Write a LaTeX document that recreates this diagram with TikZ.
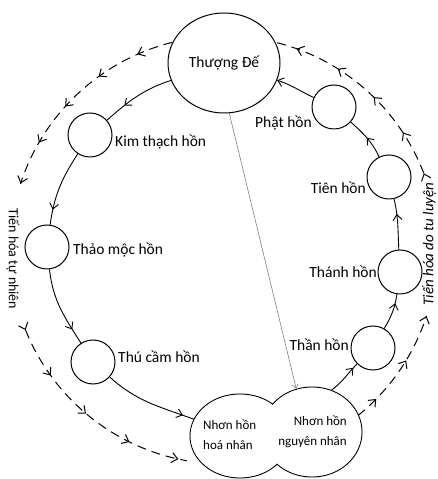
\documentclass[tikz,border=0pt]{standalone}
\usepackage{fontspec}
\setmainfont{Carlito}
\usetikzlibrary{arrows.meta,decorations.markings,shapes.geometric}
\begin{document}
\begin{tikzpicture}[x=1pt,y=1pt,
  >={Straight Barb[length=5.5pt,width=9pt]},
  soul/.style={circle, draw, line width=1pt, minimum size=44pt, inner sep=0pt},
  cloudpart/.style={ellipse, draw, fill=white, line width=1pt, inner sep=0pt},
  lbl/.style={font=\fontsize{15.5}{18}\selectfont, inner sep=0pt},
  cloudtxt/.style={font=\fontsize{13}{20}\selectfont, inner sep=0pt},
  conn/.style={line width=0.9pt},
  midarrow/.style={postaction=decorate, decoration={markings, mark=at position #1 with {\arrow{>}}}},
  dasharc/.style={line width=1pt, dash pattern=on 9pt off 6pt},
  arcmarks/.style 2 args={postaction=decorate, decoration={markings, mark=between positions #1 and 1 step #2 with {\arrow{Straight Barb[length=6pt,width=10pt]}}}}
]
\useasboundingbox (0,0) rectangle (438,479);
\coordinate (C) at (224,229);

% main nodes
\node[ellipse, draw, line width=1pt, minimum width=112pt, minimum height=100pt, inner sep=0pt, lbl] (TD) at (224,416) {Thượng Đế};
\node[soul] (kim) at (90,344) {};
\node[soul] (thao) at (47,232) {};
\node[soul] (thu) at (93,117) {};
\node[soul] (phat) at (334,372) {};
\node[soul] (tien) at (389,302) {};
\node[soul] (thanh) at (400,207) {};
\node[soul] (than) at (373,131) {};

% labels
\node[lbl, anchor=west] (kimL) at (115,337) {Kim thạch hồn};
\node[lbl, anchor=west] (thaoL) at (73,229) {Thảo mộc hồn};
\node[lbl, anchor=west] (thuL) at (118,122) {Thú cầm hồn};
\node[lbl, anchor=east] (phatL) at (312,356) {Phật hồn};
\node[lbl, anchor=east] (tienL) at (366,291) {Tiên hồn};
\node[lbl, anchor=east] (thanhL) at (377,207) {Thánh hồn};
\node[lbl, anchor=east] (thanL) at (349,134) {Thần hồn};

% cloud
\node[cloudpart, minimum width=100pt, minimum height=84pt] (cloudL) at (240,43) {};
\node[cloudpart, minimum width=100pt, minimum height=90pt] (cloudR) at (312,47) {};
\fill[white] (cloudL.center) ellipse[x radius=49.3pt, y radius=41.3pt];
\fill[white] (cloudR.center) ellipse[x radius=49.3pt, y radius=44.3pt];
\node[cloudtxt, anchor=west, align=left] (nhL) at (203,44) {Nhơn hồn\\hoá nhân};
\node[cloudtxt, anchor=east, align=right] (nhR) at (347,47) {Nhơn hồn\\nguyên nhân};

% solid connectors
\draw[conn, midarrow=0.7] (TD) to[out=198.5,in=41.3] (kim);
\draw[conn, midarrow=0.8] (kim) to[out=237,in=82] (thao);
\draw[conn, midarrow=0.8] (thao) to[out=276.6,in=122.9] (thu);
\draw[conn, midarrow=0.88] (thu) to[out=318,in=160] (cloudL);
\draw[conn, midarrow=0.85] (cloudR.65) to[out=36,in=225] (than);
\draw[conn, midarrow=0.75] (than) to[out=60,in=262] (thanh);
\draw[conn, midarrow=0.7] (thanh) to[out=93,in=283] (tien);
\draw[conn, midarrow=0.5] (tien) to[out=116,in=318] (phat);
\draw[conn, ->] (phat) to[out=155,in=342] (TD);
\draw[gray, line width=0.6pt, -{Straight Barb[length=4pt,width=6pt]}] (TD.276) -- (cloudR.110);

% dashed arcs
\draw[dasharc, arcmarks={0.17}{0.207}] ([shift={(104:214pt)}]C) arc[start angle=104,end angle=162,radius=214pt];
\draw[dasharc, arcmarks={0}{0.24}] ([shift={(202:214pt)}]C) arc[start angle=202,end angle=260,radius=214pt];
\draw[dasharc, arcmarks={0.2}{0.399}] ([shift={(309:213pt)}]C) arc[start angle=309,end angle=342,radius=213pt];
\draw[dasharc, arcmarks={0}{0.225}] ([shift={(21:214pt)}]C) arc[start angle=21,end angle=75.6,radius=214pt];

% side labels
\node[font=\fontsize{14}{16}\selectfont, rotate=-90, inner sep=0pt] (natL) at (13,220) {Tiến hóa tự nhiên};
\node[font=\fontsize{15}{17}\selectfont\itshape, rotate=90, inner sep=0pt] (cultL) at (429,235) {Tiến hóa do tu luyện};
\end{tikzpicture}
\end{document}
